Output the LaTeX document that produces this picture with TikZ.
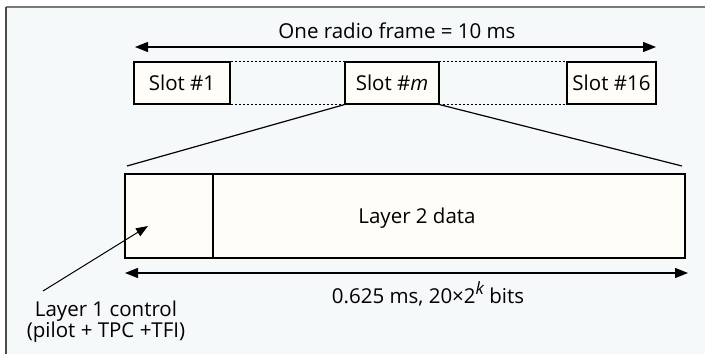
\documentclass[tikz,border=0pt]{standalone}
\usepackage{fontspec}
\setmainfont{Open Sans}
\usetikzlibrary{arrows.meta}
\definecolor{panel}{HTML}{F5F9FA}
\definecolor{cellfill}{HTML}{FFFDF8}
\definecolor{rulegray}{HTML}{7A7A7A}
\definecolor{ruledark}{HTML}{4A4A4A}
\begin{document}
\begin{tikzpicture}[x=1bp,y=-1bp,
  lbl/.style={font=\fontsize{20.5bp}{24bp}\selectfont, inner sep=0pt},
  cell/.style={draw, fill=cellfill, line width=1.2bp, inner sep=0pt, font=\fontsize{20.5bp}{24bp}\selectfont},
  dimline/.style={line width=1.2bp, {Triangle[length=13bp,width=10bp]}-{Triangle[length=13bp,width=10bp]}},
  linkline/.style={line width=1.2bp},
  dotline/.style={line width=0.8bp, dash pattern=on 2bp off 2bp}
]
\useasboundingbox (0,0) rectangle (705,354);
% panel with its top and left rules
\fill[panel] (6,7) rectangle (705,354);
\draw[rulegray, line width=1.4bp] (6,7) -- (705,7);
\draw[ruledark, line width=1.4bp] (6,354) -- (6,7);

% radio frame: slots and overall span
\node[lbl, anchor=base] (title) at (397,38) {One radio frame = 10 ms};
\coordinate (fl) at (135,47);
\coordinate (fr) at (656,47);
\draw[dimline] (fl) -- (fr);

\node[cell, minimum width=96bp, minimum height=42bp] (s1)  at (182,83) {Slot \#1};
\node[cell, minimum width=94bp, minimum height=42bp] (sm)  at (392,83) {Slot \#\textit{m}};
\node[cell, minimum width=89bp, minimum height=42bp] (s16) at (611.5,83) {Slot \#16};

\draw[dotline] (s1.north east) -- (s16.north west);
\draw[dotline] (s1.south east) -- (s16.south west);

% expanded slot
\node[cell, minimum width=88bp, minimum height=84bp] (ctrl) at (169,216) {};
\node[cell, minimum width=472bp, minimum height=84bp] (data) at (449,216) {};
\node[lbl, anchor=base] (datatxt) at (417,223) {Layer 2 data};

\coordinate (zl) at (127,166);
\coordinate (zr) at (682,166);
\draw[linkline] (sm.south west) -- (zl);
\draw[linkline] (sm.south east) -- (zr);

\coordinate (sl) at (125,273);
\coordinate (sr) at (688,273);
\draw[dimline] (sl) -- (sr);
\node[lbl, anchor=base] (span) at (428,303)
  {0.625 ms, 20×2\raisebox{0.42em}{\fontsize{17bp}{17bp}\selectfont\itshape k} bits};

% layer 1 control callout
\coordinate (ctail) at (43,291);
\coordinate (chead) at (148,226);
\draw[line width=1bp, -{Triangle[length=12bp,width=9bp]}] (ctail) -- (chead);
\node[lbl, anchor=base] (l1a) at (106,316) {Layer 1 control};
\node[lbl, anchor=base] (l1b) at (106,337) {(pilot + TPC +TFI)};
\end{tikzpicture}
\end{document}
